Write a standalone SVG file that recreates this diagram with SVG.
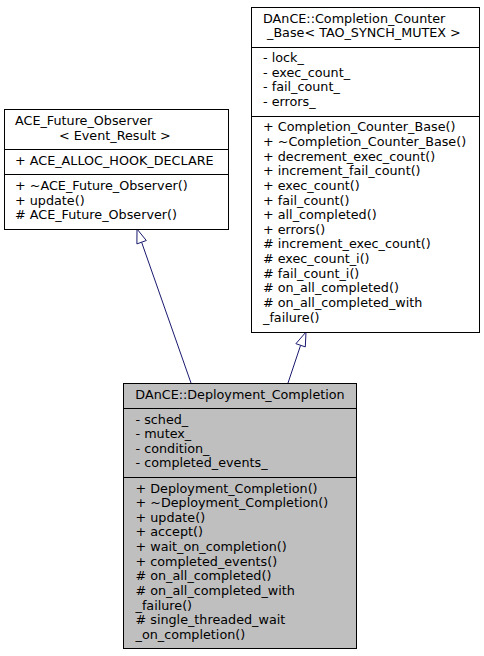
<svg xmlns="http://www.w3.org/2000/svg" width="484" height="656" viewBox="0 0 484 656">
<style>
text{font-family:"DejaVu Sans",sans-serif;font-size:12.75px;fill:#000}
.box{fill:#fff;stroke:#000;stroke-width:1}
.cur{fill:#bfbfbf;stroke:#000;stroke-width:1}
.sep{stroke:#000;stroke-width:1}
.edge{stroke:#191970;stroke-width:1;fill:none}
.head{stroke:#191970;stroke-width:1;fill:#fff}
</style>
<rect width="484" height="656" fill="#fff"/>
<g id="connectors">
<path class="edge" d="M191,383 L141.6,242.2"/>
<polygon class="head" points="137,229 146.3,240.5 136.9,243.9"/>
<path class="edge" d="M288,383 L300.6,345.3"/>
<polygon class="head" points="306,332 305.3,346.9 295.9,343.7"/>
</g>
<g id="ACE_Future_Observer">
<rect class="box" x="4.5" y="109.5" width="224" height="120"/>
<line class="sep" x1="4.5" y1="149.5" x2="228.5" y2="149.5"/>
<line class="sep" x1="4.5" y1="174.5" x2="228.5" y2="174.5"/>
<text x="15" y="125">ACE_Future_Observer</text>
<text x="59" y="139.5">&lt; Event_Result &gt;</text>
<text x="15" y="164.7">+ ACE_ALLOC_HOOK_DECLARE</text>
<text x="15" y="190">+ ~ACE_Future_Observer()</text>
<text x="15" y="204.6">+ update()</text>
<text x="15" y="219.2"># ACE_Future_Observer()</text>
</g>
<g id="Completion_Counter_Base">
<rect class="box" x="251.5" y="7.5" width="228" height="325"/>
<line class="sep" x1="251.5" y1="47.5" x2="479.5" y2="47.5"/>
<line class="sep" x1="251.5" y1="116.5" x2="479.5" y2="116.5"/>
<text x="263" y="22.7">DAnCE::Completion_Counter</text>
<text x="267" y="37.3">_Base&lt; TAO_SYNCH_MUTEX &gt;</text>
<text x="263" y="62">- lock_</text>
<text x="263" y="76.6">- exec_count_</text>
<text x="263" y="91.3">- fail_count_</text>
<text x="263" y="105.9">- errors_</text>
<text x="263" y="131.2">+ Completion_Counter_Base()</text>
<text x="263" y="145.9">+ ~Completion_Counter_Base()</text>
<text x="263" y="160.5">+ decrement_exec_count()</text>
<text x="263" y="175.2">+ increment_fail_count()</text>
<text x="263" y="189.8">+ exec_count()</text>
<text x="263" y="204.5">+ fail_count()</text>
<text x="263" y="219.1">+ all_completed()</text>
<text x="263" y="233.8">+ errors()</text>
<text x="263" y="248.4"># increment_exec_count()</text>
<text x="263" y="263.1"># exec_count_i()</text>
<text x="263" y="277.7"># fail_count_i()</text>
<text x="263" y="292.4"># on_all_completed()</text>
<text x="263" y="307"># on_all_completed_with</text>
<text x="263" y="321.7">_failure()</text>
</g>
<g id="Deployment_Completion">
<rect class="cur" x="123.5" y="383.5" width="233" height="265"/>
<line class="sep" x1="123.5" y1="408.5" x2="356.5" y2="408.5"/>
<line class="sep" x1="123.5" y1="477.5" x2="356.5" y2="477.5"/>
<text x="240" y="398.7" text-anchor="middle">DAnCE::Deployment_Completion</text>
<text x="135.5" y="423.5">- sched_</text>
<text x="135.5" y="438.1">- mutex_</text>
<text x="135.5" y="452.8">- condition_</text>
<text x="135.5" y="467.4">- completed_events_</text>
<text x="135.5" y="492.5">+ Deployment_Completion()</text>
<text x="135.5" y="507.1">+ ~Deployment_Completion()</text>
<text x="135.5" y="521.8">+ update()</text>
<text x="135.5" y="536.4">+ accept()</text>
<text x="135.5" y="551.1">+ wait_on_completion()</text>
<text x="135.5" y="565.7">+ completed_events()</text>
<text x="135.5" y="580.4"># on_all_completed()</text>
<text x="135.5" y="595"># on_all_completed_with</text>
<text x="135.5" y="609.7">_failure()</text>
<text x="135.5" y="624.3"># single_threaded_wait</text>
<text x="135.5" y="639">_on_completion()</text>
</g>
</svg>
